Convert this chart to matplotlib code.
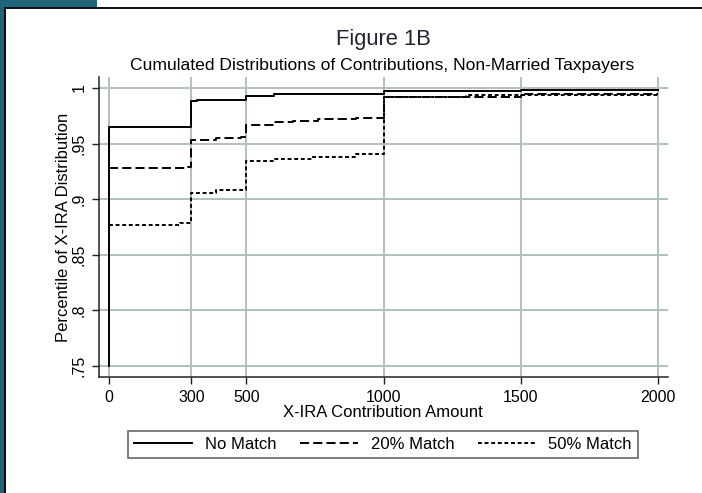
import matplotlib
matplotlib.use("Agg")
import matplotlib.pyplot as plt
from matplotlib.patches import Rectangle

plt.rcParams['font.family'] = ['Liberation Sans', 'DejaVu Sans']

# ---- data ----
x_nomatch = [0, 0, 300, 320, 500, 600, 1000, 1500, 2000]
y_nomatch = [0.75, 0.965, 0.988, 0.989, 0.993, 0.995, 0.997, 0.998, 0.998]

x_match20 = [0, 277, 300, 390, 480, 500, 600, 670, 760, 900, 1000, 1500, 2000]
y_match20 = [0.928, 0.929, 0.953, 0.955, 0.956, 0.967, 0.969, 0.970, 0.972, 0.973, 0.992, 0.995, 0.995]

x_match50 = [0, 259, 300, 390, 500, 600, 740, 900, 1000, 1300, 1500, 2000]
y_match50 = [0.877, 0.879, 0.906, 0.908, 0.934, 0.936, 0.938, 0.941, 0.9915, 0.9935, 0.994, 0.994]

series_labels = ["No Match", "20% Match", "50% Match"]
x_ticks = [0, 300, 500, 1000, 1500, 2000]
y_ticks = [0.75, 0.80, 0.85, 0.90, 0.95, 1.00]
y_ticklabels = [".75", ".8", ".85", ".9", ".95", "1"]

W, H = 702, 493
fig = plt.figure(figsize=(W / 100, H / 100), dpi=100)
fig.patch.set_facecolor('white')

# frame decorations (teal band + black border)
teal = '#1f6479'
def px_rect(x0, y0, x1, y1, color):
    fig.patches.append(Rectangle((x0 / W, 1 - y1 / H), (x1 - x0) / W, (y1 - y0) / H,
                                 transform=fig.transFigure, facecolor=color,
                                 edgecolor='none', zorder=-5))
px_rect(0, 0, 97, 6.5, teal)
px_rect(0, 0, 3.5, H, teal)
px_rect(3.5, 6.5, W, 9, '#111111')
px_rect(3.5, 6.5, 6, H, '#111111')

ax = fig.add_axes([99 / W, 1 - 377 / H, (668 - 99) / W, (377 - 77) / H])
ax.set_xlim(-36.4, 2036.4)
ax.set_ylim(0.7401, 1.0099)

grid_color = '#b0c0bb'
for xt in x_ticks:
    ax.axvline(xt, color=grid_color, lw=1.4, zorder=1)
for yt in y_ticks:
    ax.axhline(yt, color=grid_color, lw=1.4, zorder=1)

lw = 1.4
l1, = ax.plot(x_nomatch, y_nomatch, drawstyle='steps-post', color='black', lw=lw,
              zorder=3, label=series_labels[0])
l2, = ax.plot(x_match20, y_match20, drawstyle='steps-post', color='black', lw=lw,
              dashes=(4.7, 2.1), zorder=3, label=series_labels[1])
l3, = ax.plot(x_match50, y_match50, drawstyle='steps-post', color='black', lw=lw,
              dashes=(2.0, 1.4), zorder=3, label=series_labels[2])

for s in ['top', 'right']:
    ax.spines[s].set_visible(False)
for s in ['left', 'bottom']:
    ax.spines[s].set_color('#222222')
    ax.spines[s].set_linewidth(1.1)

ax.set_xticks(x_ticks)
ax.set_xticklabels([str(v) for v in x_ticks])
ax.set_yticks(y_ticks)
ax.set_yticklabels(y_ticklabels, rotation=90, va='center')
ax.tick_params(axis='both', direction='out', length=5, width=1.0, color='#222222',
               labelsize=11.5)
ax.tick_params(axis='x', pad=4)
ax.tick_params(axis='y', pad=4)

fig.text(383.5 / W, 1 - 45 / H, "Figure 1B", ha='center', va='baseline',
         fontsize=15.8, color='#222233')
fig.text(382.5 / W, 1 - 70 / H, "Cumulated Distributions of Contributions, Non-Married Taxpayers",
         ha='center', va='baseline', fontsize=12.6, color='black')
fig.text(382.5 / W, 1 - 416.7 / H, "X-IRA Contribution Amount", ha='center', va='baseline',
         fontsize=12, color='black')
fig.text(63.5 / W, 1 - 227 / H, "Percentile of X-IRA Distribution", ha='center', va='center',
         rotation=90, fontsize=12, color='black')

leg = fig.legend(handles=[l1, l2, l3], loc='center', bbox_to_anchor=(383 / W, 1 - 444.7 / H),
                 ncol=3, frameon=True, fancybox=False, fontsize=12, handlelength=3.5,
                 handletextpad=0.75, columnspacing=1.4, borderpad=0.35)
leg.get_frame().set_edgecolor('#333333')
leg.get_frame().set_linewidth(1.1)

fig.savefig('out.png', dpi=100)
